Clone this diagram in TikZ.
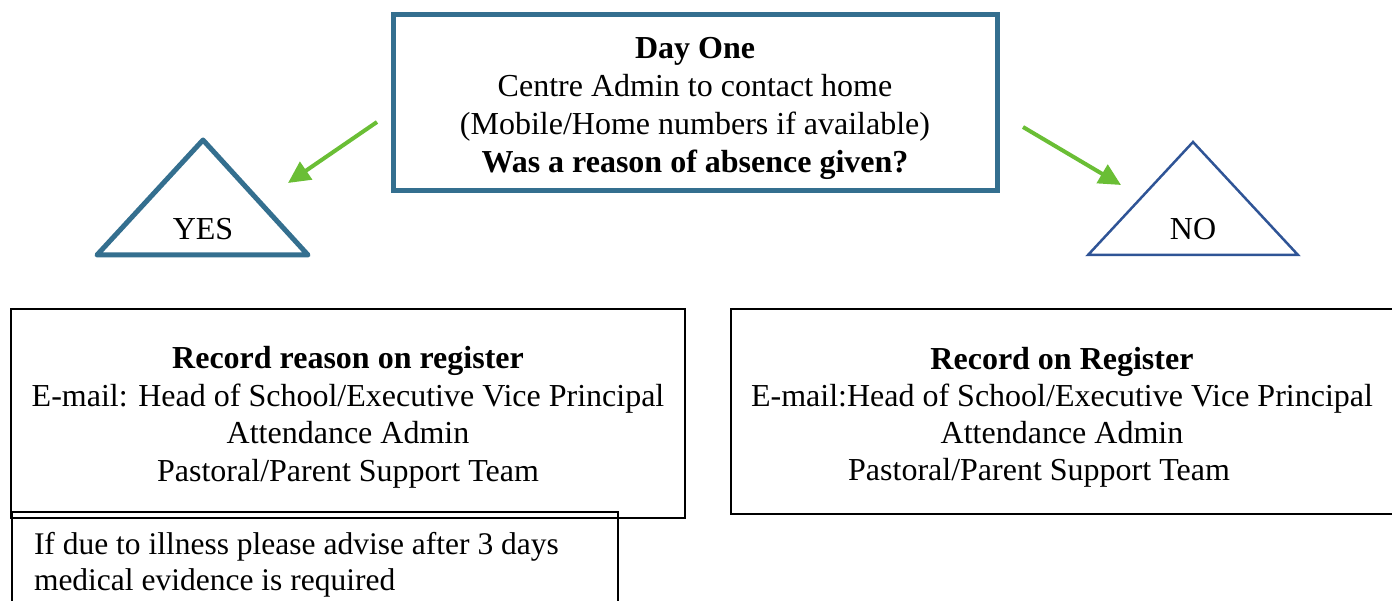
\documentclass[tikz,border=0pt]{standalone}
\usepackage{fontspec}
\setmainfont{Liberation Serif}
\usetikzlibrary{arrows.meta}
\definecolor{stepblue}{RGB}{52,111,143}
\definecolor{noblue}{RGB}{47,84,150}
\definecolor{arrowgreen}{RGB}{106,190,53}
\newcommand{\padtop}[1]{\rule{0pt}{#1}}

\begin{document}
\begin{tikzpicture}[x=1pt, y=-1pt,
    every node/.style={font=\fontsize{32}{37.5}\selectfont},
    topbox/.style={draw=stepblue, line width=5pt, minimum width=604pt, minimum height=176pt, align=center},
    regbox/.style={draw=black, line width=2pt, align=center},
    yestri/.style={draw=stepblue, line width=5pt, line join=round},
    notri/.style={draw=noblue, line width=2.5pt},
    greenarrow/.style={draw=arrowgreen, line width=4pt, -{Triangle[length=22pt, width=21pt]}}]
    \useasboundingbox (0,0) rectangle (1392,601);
    \node (dayone) [topbox, font=\fontsize{32}{38}\selectfont] at (695,103) {\padtop{32pt}\textbf{Day One}\\ Centre Admin to contact home\\ (Mobile/Home numbers if available)\\ \textbf{Was a reason of absence given?}};
    \draw[yestri] (97,255) -- (203,140) -- (308,255) -- cycle;
    \node (yes) at (203,229) {YES};
    \draw[notri] (1088,255) -- (1193,142) -- (1298,255) -- cycle;
    \node (no) at (1193,229) {NO};
    \coordinate (yesfrom) at (377,122);
    \coordinate (yesto) at (288,183);
    \coordinate (nofrom) at (1023,127);
    \coordinate (noto) at (1121,185);
    \draw[greenarrow] (yesfrom) -- (yesto);
    \draw[greenarrow] (nofrom) -- (noto);
    \node (reason) [regbox, minimum width=674pt, minimum height=209pt] at (348,413.5) {\padtop{30pt}\textbf{Record reason on register}\\ E-mail: Head of School/Executive Vice Principal\\ Attendance Admin\\ Pastoral/Parent Support Team};
    \node (register) [regbox, minimum width=662pt, minimum height=205pt, font=\fontsize{32}{37}\selectfont] at (1062,411.5) {\padtop{33pt}\textbf{Record on Register}\\ E-mail:Head of School/Executive Vice Principal\\ Attendance Admin\\ Pastoral/Parent Support Team\hspace*{46pt}};
    \node (illness) [regbox, anchor=north west, minimum width=606pt, minimum height=98pt, text width=562pt, inner xsep=22pt, align=flush left, font=\fontsize{31.5}{36}\selectfont] at (11,511) {\padtop{29pt}If due to illness please advise after 3 days\\ medical evidence is required};
\end{tikzpicture}
\end{document}
